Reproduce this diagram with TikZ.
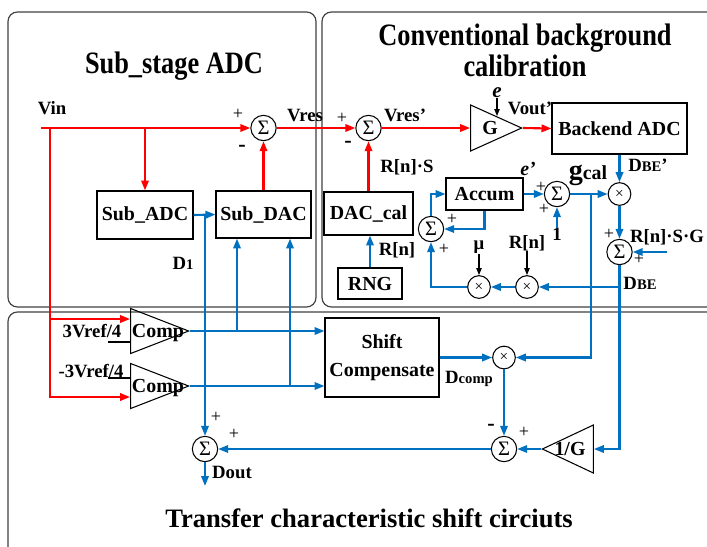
\documentclass[tikz,border=0pt]{standalone}
\usepackage{fontspec}
\setmainfont{Liberation Serif}
\usepackage{xcolor}
\usepackage{tikz}
\usetikzlibrary{shapes,arrows.meta,positioning,calc}

\definecolor{myblue}{RGB}{0,112,192}
\newcommand{\smtxt}[1]{{\fontsize{12.5}{13}\selectfont #1}}
\newcommand{\tallbox}[1]{\scalebox{1}[1.18]{#1}}

\begin{document}
\begin{tikzpicture}[
    x=0.03cm, y=-0.03cm,
    panel/.style={draw=black!75, line width=1pt, rounded corners=8pt},
    block/.style={rectangle, draw, line width=0.9pt, inner sep=0pt, font=\fontsize{17}{19}\selectfont\bfseries},
    amptext/.style={inner sep=0pt, font=\fontsize{17}{19}\selectfont\bfseries},
    sumnode/.style={circle, draw, line width=0.9pt, inner sep=0pt, minimum size=0.76cm, font=\fontsize{17.5}{17.5}\selectfont},
    mulnode/.style={circle, draw, line width=0.9pt, inner sep=0pt, minimum size=0.68cm, font=\fontsize{13}{13}\selectfont},
    amp/.style={isosceles triangle, isosceles triangle stretches, draw, line width=0.9pt, inner sep=0pt, anchor=apex},
    lbl/.style={inner sep=0pt, font=\fontsize{16}{18}\selectfont\bfseries},
    sign/.style={inner sep=0pt, font=\fontsize{15.5}{15.5}\selectfont},
    minus/.style={inner sep=0pt, font=\fontsize{19}{19}\selectfont\bfseries},
    title/.style={align=center, font=\fontsize{22.5}{26.5}\selectfont\bfseries},
    redarrow/.style={-{Triangle[length=8.5pt,width=6.3pt]}, red, line width=1.8pt},
    bluearrow/.style={-{Triangle[length=8.5pt,width=6.3pt]}, myblue, line width=1.8pt},
    tinyarrow/.style={-{Triangle[length=6pt,width=4.5pt]}, line width=1.1pt}
]
\useasboundingbox (0,0) rectangle (707,546);
\clip (0,0) rectangle (707,546);

% Panels
\draw[panel] (8,12) rectangle (316,307);
\draw[panel] (322,12) rectangle (725,307);
\draw[panel] (8,312) rectangle (725,560);

% Titles
\node[title] (ttlsub) at (174,66) {\tallbox{Sub\_stage ADC}};
\node[title] (ttlcal) at (525,50) {\tallbox{Conventional background}\\\tallbox{calibration}};
\node[title, font=\fontsize{22.7}{26}\selectfont\bfseries] (ttltcs) at (369,518) {Transfer characteristic shift circiuts};

% Blocks
\node[block, minimum width=2.88cm, minimum height=1.44cm] (subadc) at (145,215) {Sub\_ADC};
\node[block, minimum width=2.85cm, minimum height=1.41cm] (subdac) at (263.5,214.5) {Sub\_DAC};
\node[block, minimum width=2.67cm, minimum height=1.29cm] (daccal) at (368.5,213.5) {DAC\_cal};
\node[block, minimum width=1.92cm, minimum height=0.93cm] (rng) at (370,283.5) {RNG};
\node[block, minimum width=2.31cm, minimum height=0.96cm] (accum) at (484.5,194) {Accum};
\node[block, minimum width=4.05cm, minimum height=1.53cm] (backend) at (619.5,128.5) {Backend ADC};
\node[block, minimum width=3.42cm, minimum height=2.37cm, align=center, font=\fontsize{17}{24}\selectfont\bfseries] (shift) at (382,357.5) {Shift\\Compensate};

% Summers and multipliers
\node[sumnode] (s1) at (263.5,128) {Σ};
\node[sumnode] (s2) at (368.5,128) {Σ};
\node[sumnode] (se) at (557,194) {Σ};
\node[sumnode] (sa) at (431,229) {Σ};
\node[sumnode] (sg) at (619.5,252) {Σ};
\node[sumnode] (sc) at (504,449) {Σ};
\node[sumnode] (so) at (205,449) {Σ};
\node[mulnode] (m1) at (619.5,194) {×};
\node[mulnode] (mr) at (527,287) {×};
\node[mulnode] (mu) at (479,287) {×};
\node[mulnode] (mc) at (504,357.5) {×};

% Amplifiers and comparators
\node[amp, minimum height=1.74cm, minimum width=1.35cm] (comp1) at (190,331) {};
\node[amp, minimum height=1.74cm, minimum width=1.35cm] (comp2) at (190,386) {};
\node[amp, minimum height=1.53cm, minimum width=1.38cm] (g) at (523,128) {};
\node[amp, shape border rotate=180, minimum height=1.53cm, minimum width=1.44cm] (inv) at (541,449) {};
\node[amptext] (comp1txt) at (158,333) {Comp};
\node[amptext] (comp2txt) at (158,388) {Comp};
\node[amptext] (gtxt) at (490,128) {G};
\node[amptext] (invtxt) at (570,449) {1/G};

% Free ends
\coordinate (vin) at (41,128);
\coordinate (vtap) at (50,128);
\coordinate (dacin1) at ($(subdac.south)+(-26.5,0)$);
\coordinate (dacin2) at ($(subdac.south)+(26.5,0)$);
\coordinate (gtap) at (591,194);
\coordinate (dtap) at (619.5,287);
\coordinate (rsgin) at (667,252);
\coordinate (dout) at (205,486);
\coordinate (ref1) at (108,342);
\coordinate (ref2) at (108,378);

% Labels
\node[lbl] (vinlab) at (52,108) {Vin};
\node[sign] (p1) at (238,114) {+};
\node[minus] (n1) at (242,148) {-};
\node[lbl] (vreslab) at (305,115) {Vres};
\node[sign] (p2) at (342,118) {+};
\node[minus] (n2) at (348,144) {-};
\node[lbl] (vrespl) at (405,115) {Vres'};
\node[lbl, font=\fontsize{18}{18}\selectfont\bfseries\itshape] (elab) at (497,93) {e};
\node[lbl] (voutlab) at (530,108) {Vout'};
\node[lbl] (rnslab) at (407,167) {R[n]·S};
\node[lbl] (rnlab1) at (397,250) {R[n]};
\node[lbl, font=\fontsize{17}{17}\selectfont\bfseries\itshape] (eplab) at (528,169) {e'};
\node[sign] (p3) at (541,187) {+};
\node[sign] (p4) at (544,209) {+};
\node[lbl] (one) at (557,234) {1};
\node[lbl] (gcallab) at (588,175) {{\fontsize{24}{24}\selectfont g}{\fontsize{17}{17}\selectfont cal}};
\node[lbl] (dbeplab) at (648,165) {D\smtxt{BE}'};
\node[sign] (p5) at (444,249) {+};
\node[sign] (p6) at (452,219) {+};
\node[lbl] (mulab) at (479,247) {μ};
\node[lbl] (rnlab2) at (527,243) {R[n]};
\node[sign] (p7) at (609,234) {+};
\node[sign] (p8) at (639,259) {+};
\node[lbl] (rsglab) at (667,237) {R[n]·S·G};
\node[lbl] (dbelab) at (640,283) {D\smtxt{BE}};
\node[lbl] (d1lab) at (183,263) {D\smtxt{1}};
\node[lbl] (ref1lab) at (92,331) {3Vref/4};
\node[lbl] (ref2lab) at (91,371) {-3Vref/4};
\node[sign] (p9) at (216,417) {+};
\node[sign] (p10) at (234,434) {+};
\node[lbl] (doutlab) at (232,472) {Dout};
\node[minus] (n3) at (491,427) {-};
\node[sign] (p11) at (524,432) {+};
\node[lbl] (dcomplab) at (469,379) {D\smtxt{comp}};

% Red signal path
\draw[redarrow] (vin) -- (s1.west);
\draw[redarrow] (subadc.north |- vin) -- (subadc.north);
\draw[redarrow] (vtap) |- ($(comp1.west)+(0,-12)$);
\draw[redarrow] (vtap) |- ($(comp2.west)+(0,11)$);
\draw[redarrow] (subdac.north) -- (s1.south);
\draw[redarrow] (s1.east) -- (s2.west);
\draw[redarrow] (daccal.north) -- (s2.south);
\draw[redarrow] (s2.east) -- (g.west);
\draw[redarrow] (g.apex) -- (backend.west);

% Blue digital path
\draw[bluearrow] (subadc.east) -- (subdac.west);
\draw[bluearrow] (subadc.east -| so) -- (so.north);
\draw[bluearrow] (comp1.apex) -- (comp1.apex -| shift.west);
\draw[bluearrow] (comp2.apex) -- (comp2.apex -| shift.west);
\draw[bluearrow] (dacin1 |- comp1.apex) -- (dacin1);
\draw[bluearrow] (dacin2 |- comp2.apex) -- (dacin2);
\draw[bluearrow] (rng.north) -- (rng.north |- daccal.south);
\draw[bluearrow] (sa.north) |- (accum.west);
\draw[bluearrow] (accum.south) |- (sa.east);
\draw[bluearrow] (accum.east) -- (se.west);
\draw[bluearrow] (one) -- (se.south);
\draw[bluearrow] (se.east) -- (m1.west);
\draw[bluearrow] (backend.south) -- (m1.north);
\draw[bluearrow] (m1.south) -- (sg.north);
\draw[bluearrow] (rsgin) -- (sg.east);
\draw[bluearrow] (dtap) -- (mr.east);
\draw[bluearrow] (mr.west) -- (mu.east);
\draw[bluearrow] (mu.west) -| (sa.south);
\draw[bluearrow] (shift.east) -- (mc.west);
\draw[bluearrow] (gtap) |- (mc.east);
\draw[bluearrow] (sg.south) |- (inv.east);
\draw[bluearrow] (inv.apex) -- (sc.east);
\draw[bluearrow] (mc.south) -- (sc.north);
\draw[bluearrow] (sc.west) -- (so.east);
\draw[bluearrow] (so.south) -- (dout);

% Black inputs
\draw[line width=1.2pt] (ref1) -- (ref1 -| comp1.west);
\draw[line width=1.2pt] (ref2) -- (ref2 -| comp2.west);
\draw[tinyarrow] (elab.south) -- (elab.south |- g.left side);
\draw[tinyarrow] (mulab) -- (mu.north);
\draw[tinyarrow] (rnlab2) -- (mr.north);

\end{tikzpicture}
\end{document}
